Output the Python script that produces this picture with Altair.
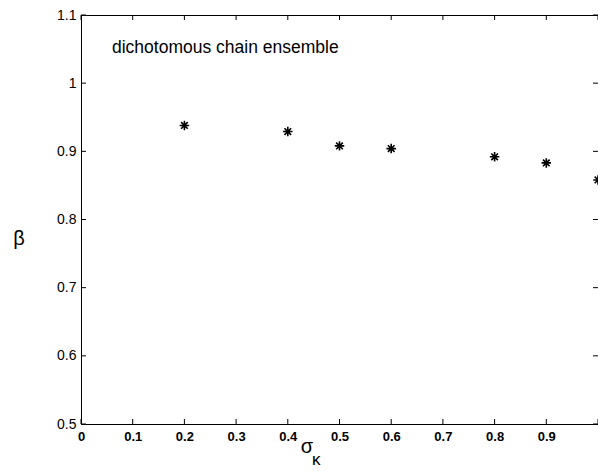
import altair as alt
import pandas as pd

# data
sigma_k = [0.2, 0.4, 0.5, 0.6, 0.8, 0.9, 1.0]
beta = [0.938, 0.929, 0.908, 0.904, 0.892, 0.883, 0.858]
x_ticks = [0, 0.1, 0.2, 0.3, 0.4, 0.5, 0.6, 0.7, 0.8, 0.9, 1.0]
x_labels = [0, 0.1, 0.2, 0.3, 0.4, 0.5, 0.6, 0.7, 0.8, 0.9]
y_ticks = [0.5, 0.6, 0.7, 0.8, 0.9, 1.0, 1.1]

W, H = 517, 409
FONT = "Liberation Sans"

df = pd.DataFrame({"s": sigma_k, "b": beta})
xt = pd.DataFrame({"t": x_ticks})
yt = pd.DataFrame({"t": y_ticks})

xscale = alt.Scale(domain=[0, 1], nice=False, zero=False)
yscale = alt.Scale(domain=[0.5, 1.1], nice=False, zero=False)

asterisk = "M-1,0L1,0M0,-1L0,1M-0.7,-0.7L0.7,0.7M-0.7,0.7L0.7,-0.7"

points = alt.Chart(df).mark_point(
    shape=asterisk, filled=False, stroke="black", strokeWidth=1.6, size=90, opacity=1
).encode(
    x=alt.X("s:Q", scale=xscale, title=None,
            axis=alt.Axis(values=x_labels, labelExpr="toString(datum.value)", ticks=False,
                          grid=False, domainColor="black", labelColor="black",
                          labelFont=FONT, labelFontSize=13, labelFontWeight="bold",
                          labelPadding=6, labelFlush=False)),
    y=alt.Y("b:Q", scale=yscale, title=None,
            axis=alt.Axis(values=y_ticks, labelExpr="toString(datum.value)", ticks=False,
                          grid=False, domainColor="black", labelColor="black",
                          labelFont=FONT, labelFontSize=14, labelPadding=5,
                          labelFlush=False)),
)

tk = 5
bottom = alt.Chart(xt).mark_rule(color="black").encode(
    x=alt.X("t:Q", scale=xscale), y=alt.value(H), y2=alt.value(H - tk))
top = alt.Chart(xt).mark_rule(color="black").encode(
    x=alt.X("t:Q", scale=xscale), y=alt.value(0), y2=alt.value(tk))
left = alt.Chart(yt).mark_rule(color="black").encode(
    y=alt.Y("t:Q", scale=yscale), x=alt.value(0), x2=alt.value(tk))
right = alt.Chart(yt).mark_rule(color="black").encode(
    y=alt.Y("t:Q", scale=yscale), x=alt.value(W), x2=alt.value(W - tk))

label_df = pd.DataFrame({"txt": ["dichotomous chain ensemble"]})
annot = alt.Chart(label_df).mark_text(
    align="left", baseline="alphabetic", font=FONT, fontSize=17.5, color="black"
).encode(text="txt:N", x=alt.value(31), y=alt.value(38))

beta_lbl = alt.Chart(pd.DataFrame({"txt": ["β"]})).mark_text(
    align="center", baseline="middle", font=FONT, fontSize=20, color="black"
).encode(text="txt:N", x=alt.value(-62), y=alt.value(224))

sig_lbl = alt.Chart(pd.DataFrame({"txt": ["σ"]})).mark_text(
    align="center", baseline="alphabetic", font=FONT, fontSize=20, color="black"
).encode(text="txt:N", x=alt.value(226), y=alt.value(438))

kap_lbl = alt.Chart(pd.DataFrame({"txt": ["κ"]})).mark_text(
    align="left", baseline="alphabetic", font=FONT, fontSize=17, color="black"
).encode(text="txt:N", x=alt.value(231), y=alt.value(450))

chart = alt.layer(points, bottom, top, left, right, annot, beta_lbl, sig_lbl, kap_lbl).properties(
    width=W, height=H,
    autosize=alt.AutoSizeParams(type="none"),
    padding={"left": 81, "top": 15, "right": 0, "bottom": 47},
    background="white",
).configure_view(stroke="black", strokeWidth=1).configure_axis(domainWidth=1)

chart.save("out.html", embed_options={"renderer": "svg", "actions": False})
